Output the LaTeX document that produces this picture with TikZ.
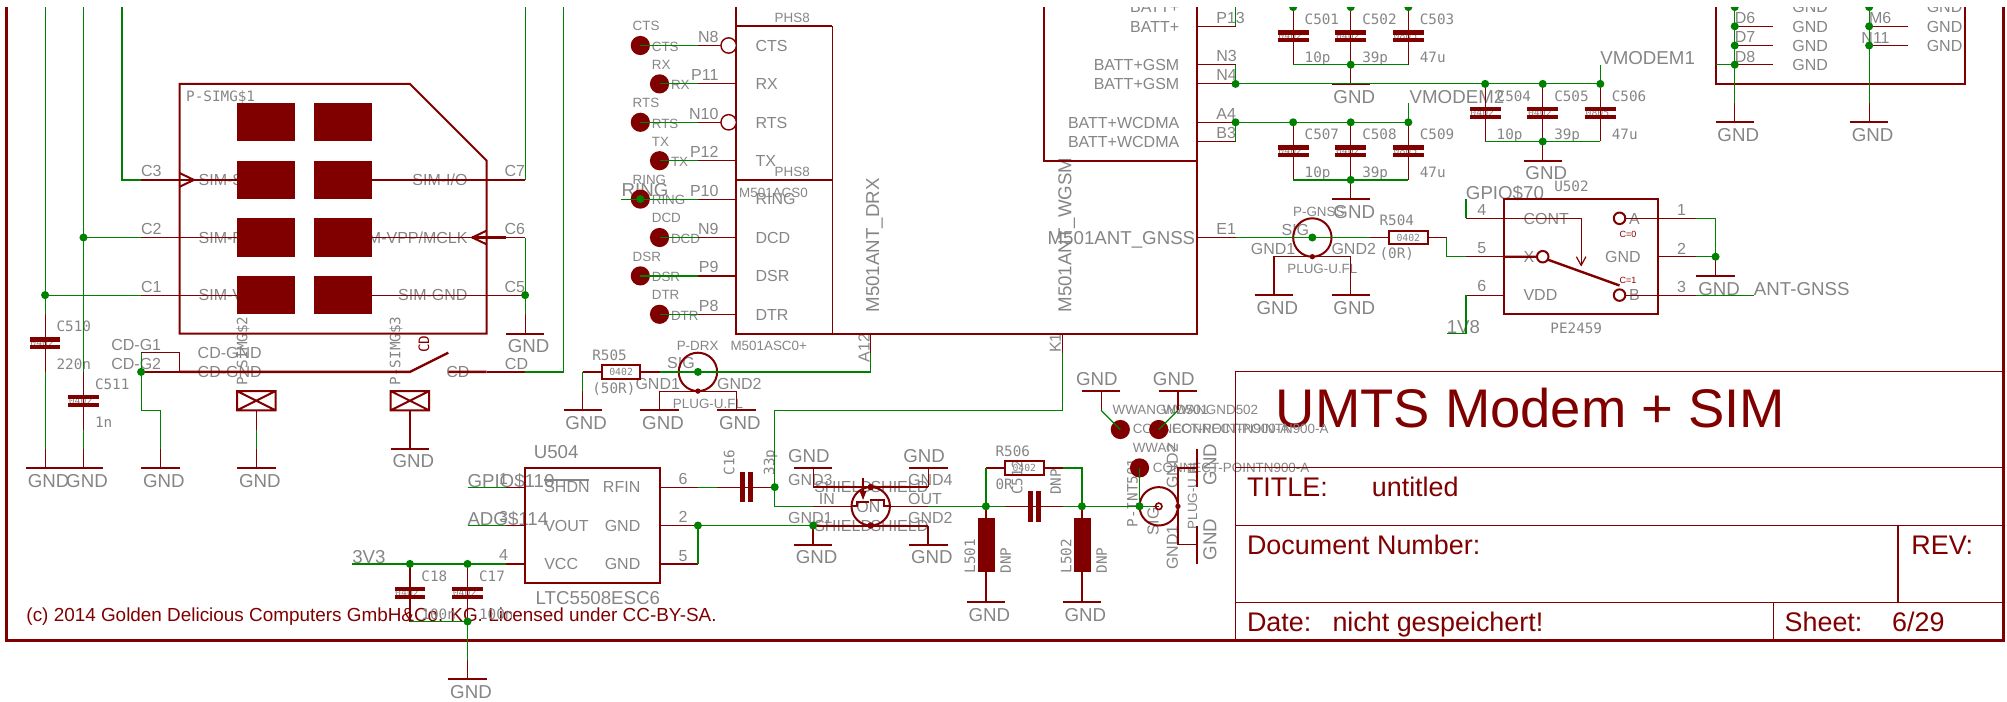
\documentclass[tikz,border=0pt]{standalone}
\usepackage{fontspec}
\newfontfamily\sansf{Liberation Sans}
\newfontfamily\monof{DejaVu Sans Mono}
\definecolor{mar}{HTML}{800000}
\definecolor{grn}{HTML}{008000}
\definecolor{lab}{HTML}{858585}
\newcounter{lb}
\pgfdeclarelayer{txt}\pgfdeclarelayer{wires}\pgfdeclarelayer{dots}\pgfdeclarelayer{cover}
\pgfsetlayers{txt,main,wires,dots,cover}
\tikzset{
  lbase/.style={inner sep=0,outer sep=0,anchor=base west,text=lab},
  fa/.style={lbase,font=\sansf\fontsize{9.35}{10}\selectfont},
  fb/.style={lbase,font=\sansf\fontsize{8}{9}\selectfont},
  fd/.style={lbase,font=\sansf\fontsize{6.7}{8}\selectfont},
  fm/.style={lbase,font=\monof\fontsize{7.15}{8}\selectfont},
  ft/.style={lbase,font=\monof\fontsize{4.9}{6}\selectfont,anchor=center},
  rot/.style={rotate=90},
  re/.style={anchor=base east},
  ttl/.style={lbase,text=mar,font=\sansf\fontsize{27.2}{29}\selectfont},
  tmid/.style={lbase,text=mar,font=\sansf\fontsize{13.45}{15}\selectfont},
  cprt/.style={lbase,text=mar,font=\sansf\fontsize{9.45}{11}\selectfont},
  tiny/.style={lbase,text=mar,font=\sansf\fontsize{4.5}{5}\selectfont},
  pinl/.style={draw=mar,line width=0.6pt},
  symb/.style={draw=mar,line width=1pt},
  thk/.style={draw=mar,line width=1.2pt},
  wire/.style={draw=grn,line width=0.6pt},
  frm/.style={draw=mar,line width=1.3pt},
  tblk/.style={draw=mar,line width=0.55pt},
}
\makeatletter
\newcommand\txtlist{}\newcommand\wirelist{}\newcommand\dotlist{}
\newcommand\TX[1]{\g@addto@macro\txtlist{#1}}
\newcommand\W[1]{\g@addto@macro\wirelist{#1}}
\newcommand\tl[5][]{\TX{\stepcounter{lb}\node[#2,#1] (lb\arabic{lb}) at (#3,#4) {#5};}}
\newcommand\J[3]{\coordinate (#1) at (#2,#3);\g@addto@macro\dotlist{\fill[grn] (#2,#3) circle (0.21);}}
\makeatother
\newcommand\gnd[2]{\path[symb] ({#1-1},#2)--({#1+1},#2);\path[pinl] (#1,{#2-1})--(#1,#2);\tl{fa}{#1-.9}{#2+1}{GND}}
\newcommand\gndup[2]{\path[symb] ({#1-1},#2)--({#1+1},#2);\path[pinl] (#1,{#2+1})--(#1,#2);\tl{fa}{#1-1.3}{#2-.28}{GND}}
\newcommand\capv[5]{\path[pinl] (#1,{#2-1.5})--(#1,{#2+1.5});
  \fill[mar] ({#1-.8},{#2-.3}) rectangle ({#1+.8},{#2-.07});
  \fill[mar] ({#1-.8},{#2+.1}) rectangle ({#1+.8},{#2+.33});
  \tl{ft}{#1-.15}{#2}{#3}\tl{fm}{#1+.6}{#2-.6}{#4}\tl{fm}{#1+.6}{#2+1.37}{#5}}
\newcommand\caph[2]{\path[pinl] ({#1-1.5},#2)--({#1+1.5},#2);
  \fill[mar] ({#1-.3},{#2-.8}) rectangle ({#1-.05},{#2+.8});
  \fill[mar] ({#1+.1},{#2-.8}) rectangle ({#1+.35},{#2+.8});}
\newcommand\resb[2]{\path[symb] (#1,{#2-.36}) rectangle ({#1+2},{#2+.36});
  \path[pinl] ({#1-1},#2)--(#1,#2) ({#1+2},#2)--({#1+3},#2);\tl{ft}{#1+1}{#2+.02}{0402}}
\newcommand\coax[2]{\path[symb] (#1,#2) circle (1);\fill[mar] (#1,{#2+1}) circle (.14);}
\newcommand\mpin[4]{%
  \fill[mar] (#3,#2) circle (.5);
  \path[pinl] (36,#2)--(38,#2);
  \tl[re]{fb}{37.07}{#2-.16}{#1}
  \tl{fb}{39}{#2+.3}{#4}
  \tl{fd}{#3-.4}{#2-.76}{#4}
  \tl{fd}{#3+.6}{#2+.3}{#4}
  \W{\path[wire] (#3,#2)--(36,#2);}}
\begin{document}
\begin{tikzpicture}[x=9.6pt,y=-9.6pt]
\useasboundingbox (-0.349,-0.37) rectangle (104.18,36.19);

% frame and title block
\path[frm] (0,0)--(0,33)--(104,33)--(104,0);
\path[tblk] (64,33)--(64,19)--(104,19) (64,24)--(104,24) (64,27)--(104,27) (64,31)--(104,31) (92,31)--(92,33) (98.5,27)--(98.5,31);
\tl{ttl}{66.1}{21.9}{UMTS Modem + SIM}
\tl{tmid}{64.6}{25.5}{TITLE:}
\tl{tmid}{71.1}{25.5}{untitled}
\tl{tmid}{64.6}{28.5}{Document Number:}
\tl{tmid}{99.2}{28.5}{REV:}
\tl{tmid}{64.6}{32.5}{Date:}
\tl{tmid}{69.05}{32.5}{nicht gespeichert!}
\tl{tmid}{92.6}{32.5}{Sheet:}
\tl{tmid}{98.2}{32.5}{6/29}
\tl{cprt}{1.03}{32}{(c) 2014 Golden Delicious Computers GmbH\&Co. KG. Licensed under CC-BY-SA.}

% junctions
\J{jCa}{2}{15}\J{jCb}{4}{12}\J{jCe}{27}{15}\J{jCDG}{7}{19}
\J{jVa}{21}{29}\J{jVb}{24}{29}\J{jVg}{24}{32}
\J{jUg}{36}{27}\J{jQg}{42}{27}\J{jCs}{40}{25}
\J{jLa}{51}{26}\J{jLb}{56}{26}\J{jW}{59}{26}\J{jDRX}{36}{19}\J{jGN}{68}{12}\J{jRing}{33}{10}
\J{jBa}{64}{4}\J{jBb}{64}{6}\J{jPa}{77}{4}\J{jPb}{80}{4}\J{jPc}{83}{4}
\J{jQa}{67}{6}\J{jQb}{70}{6}\J{jQc}{73}{6}
\J{jRa}{70}{3}\J{jRb}{70}{9}\J{jRc}{80}{7}\J{jSw}{89}{13}
\J{jTa}{67}{0}\J{jTb}{70}{0}\J{jTc}{73}{0}
\J{jXa}{90}{0}\J{jXb}{90}{1}\J{jXc}{90}{2}\J{jXd}{90}{3}
\J{jYa}{97}{0}\J{jYb}{97}{1}\J{jYc}{97}{2}

% SIM card
\path[symb] (9,4)--(21,4)--(25,8)--(25,17)--(9,17)--cycle;
\foreach \yy in {5,8,11,14}{\fill[mar] (12,\yy) rectangle (15,\yy+2);\fill[mar] (16,\yy) rectangle (19,\yy+2);}
\tl{fm}{9.35}{4.93}{P-SIMG\$1}
\path[pinl] (7,9)--(12,9) (7,12)--(12,12) (7,15)--(12,15) (19,9)--(27,9) (19,12)--(27,12) (19,15)--(27,15);
\path[thk] (8,9)--(9.75,9) (24.25,12)--(26,12);
\path[symb] (9,8.64)--(9.75,9)--(9,9.36) (25,11.64)--(24.25,12)--(25,12.36);
\tl{fb}{7}{8.84}{C3}\tl{fb}{7}{11.84}{C2}\tl{fb}{7}{14.84}{C1}
\tl[re]{fb}{27}{8.84}{C7}\tl[re]{fb}{27}{11.84}{C6}\tl[re]{fb}{27}{14.84}{C5}
\tl{fb}{10}{9.3}{SIM-S}\tl{fb}{10}{12.3}{SIM-R}\tl{fb}{10}{15.3}{SIM-V}
\tl[re]{fb}{24}{9.3}{SIM-I/O}\tl[re]{fb}{24}{12.3}{M-VPP/MCLK}\tl[re]{fb}{24}{15.3}{SIM-GND}
\path[pinl] (7,18)--(9,18)--(9,19) (7,19)--(9,19);
\path[thk] (9,19)--(21,19)--(23,18) (23,19)--(25,19);
\path[pinl] (25,19)--(27,19);
\tl{fb}{5.45}{17.86}{CD-G1}\tl{fb}{5.45}{18.86}{CD-G2}
\tl{fb}{9.95}{18.3}{CD-GND}\tl{fb}{9.95}{19.3}{CD-GND}
\tl{fb}{22.9}{19.3}{CD}\tl{fb}{25.95}{18.86}{CD}
\tl[rot,text=mar]{fm}{22}{18}{CD}
\tl[rot]{fm}{12.54}{19.7}{P-SIMG\$2}\tl[rot]{fm}{20.5}{19.7}{P-SIMG\$3}
\path[symb] (12,20) rectangle (14,21) (12,20)--(14,21) (12,21)--(14,20);
\path[symb] (20,20) rectangle (22,21) (20,20)--(22,21) (20,21)--(22,20);
\path[pinl] (13,21)--(13,22) (21,21)--(21,22);
\gnd{21}{23}\gnd{13}{24}\gnd{8}{24}\gnd{2}{24}\gnd{4}{24}\gnd{27}{17}
\capv{2}{17.5}{0402}{C510}{220n}
\capv{4}{20.5}{0402}{C511}{1n}
\W{\path[wire] (2,0)--(jCa)--(2,16) (jCa)--(7,15);
\path[wire] (4,0)--(4,19) (jCb)--(7,12);
\path[wire] (6,0)--(6,9)--(7,9) (27,0)--(27,9) (27,12)--(jCe)--(27,16);
\path[wire] (29,0)--(29,19)--(27,19);
\path[wire] (7,18)--(jCDG)--(7,21)--(8,21)--(8,23);
\path[wire] (2,19)--(2,23) (4,22)--(4,23) (13,22)--(13,23);}

% LTC5508
\path[symb] (27,24) rectangle (34,30);
\path[pinl] (26,25)--(27,25) (26,27)--(27,27) (26,29)--(27,29) (34,25)--(36,25) (34,27)--(36,27) (34,29)--(36,29);
\tl{fa}{27.45}{23.5}{U504}\tl{fa}{27.55}{31.1}{LTC5508ESC6}
\tl{fa}{24}{25}{GPIO\$110}\tl{fa}{24}{27}{ADG\$114}\tl{fa}{18}{29}{3V3}
\tl{fb}{25.64}{24.84}{1}\tl{fb}{25.64}{26.84}{3}\tl{fb}{25.64}{28.84}{4}
\tl{fb}{28}{25.3}{SHDN}\tl{fb}{28}{27.3}{VOUT}\tl{fb}{28}{29.3}{VCC}
\tl[re]{fb}{33}{25.3}{RFIN}\tl[re]{fb}{33}{27.3}{GND}\tl[re]{fb}{33}{29.3}{GND}
\tl{fb}{35}{24.85}{6}\tl{fb}{35}{26.85}{2}\tl{fb}{35}{28.85}{5}
\TX{\draw[lab,line width=.6pt] (28,24.63)--(30.35,24.63);}
\capv{21}{30.5}{0402}{C18}{100n}
\capv{24}{30.5}{0402}{C17}{100n}
\gnd{24}{35}
\W{\path[wire] (24,25)--(26,25) (24,27)--(26,27) (18,29)--(26,29) (21,32)--(jVg)--(24,34);
\path[wire] (36,25)--(37,25) (36,29)--(jUg)--(jQg);}
\caph{38.5}{25}
\tl[rot]{fm}{37.9}{24.4}{C16}\tl[rot]{fm}{39.98}{24.4}{33p}

% shield switch
\path[symb] (45,26) circle (1);
\path[pinl] (42,26)--(44,26) (46,26)--(48,26) (42,24)--(42,25) (48,24)--(48,25);
\path[symb] (42,25)--(48,25) (42,27)--(48,27) (42,27)--(42,28) (48,27)--(48,28);
\path[symb] (44,26)--(44.3,26)--(44.3,25.76)--(44.9,25.76) (44.95,25.65)--(45.7,25.65)--(45.7,26)--(46,26) (44.6,24.5)--(44.6,25.3);
\fill[mar] (44.42,25.2)--(44.78,25.2)--(44.6,25.67)--cycle;
\fill[mar] (45,25) circle (.17) (45,27) circle (.17);
\gndup{42}{24}\gndup{48}{24}\gnd{42}{28}\gnd{48}{28}
\tl{fb}{40.7}{24.9}{GND3}\tl{fb}{46.95}{24.9}{GND4}\tl{fb}{40.7}{26.9}{GND1}\tl{fb}{46.95}{26.9}{GND2}
\tl{fb}{42.3}{25.9}{IN}\tl{fb}{46.95}{25.9}{OUT}
\tl{fb}{42.06}{25.3}{SHIELD}\tl[re]{fb}{48}{25.3}{SHIELD}
\tl{fb}{42.06}{27.3}{SHIELD}\tl[re]{fb}{48}{27.3}{SHIELD}
\tl{fb}{44.25}{26.3}{ON}
\W{\path[wire] (jCs)--(40,26)--(42,26) (jCs)--(40,21)--(55,21)--(55,18);
\path[wire] (48,26)--(jLa) (51,24)--(jLa)--(52,26) (55,26)--(jLb) (55,24)--(56,24)--(jLb);
\path[wire] (jLb)--(jW)--(59.7,26) (jW)--(59,24);}
\resb{52}{24}
\tl{fm}{51.5}{23.4}{R506}\tl{fm}{51.5}{25.1}{0R}
\tl[rot]{fm}{52.9}{25.4}{C512}\tl[rot]{fm}{54.9}{25.4}{DNP}
\caph{53.5}{26}
% inductors
\path[pinl] (51,26)--(51,30) (56,26)--(56,30);
\fill[mar] (50.6,26.6) rectangle (51.45,29.4);
\fill[mar] (55.6,26.6) rectangle (56.45,29.4);
\gnd{51}{31}\gnd{56}{31}
\tl[rot]{fm}{50.44}{29.5}{L501}\tl[rot]{fm}{52.3}{29.5}{DNP}
\tl[rot]{fm}{55.45}{29.5}{L502}\tl[rot]{fm}{57.3}{29.5}{DNP}

% WWAN coax and connect points
\path[symb] (60,26) circle (1);
\path[symb,line width=.8pt] (60,26) circle (.17);
\fill[mar] (61,26) circle (.14);
\path[pinl] (59.7,26)--(60,26) (62,24)--(61,24)--(61,28)--(62,28);
\path[symb] (62,23)--(62,25) (62,27)--(62,29);
\fill[mar] (59,24) circle (.5) (58,22) circle (.5) (60,22) circle (.5);
\tl[rot]{fa}{63}{24.9}{GND}\tl[rot]{fa}{63}{28.8}{GND}
\tl[rot]{fb}{61}{25.07}{GND2}\tl[rot]{fb}{61}{29.3}{GND1}
\tl[rot]{fb}{60}{27.5}{SIG}\tl[rot]{fd}{62}{27.2}{PLUG-U.FL}
\tl[rot]{fm}{58.9}{27.1}{P-INT501}
\tl{fd}{58.65}{23.2}{WWAN}\tl{fd}{59.7}{24.25}{CONNECT-POINTN900-A}
\tl{fd}{57.6}{21.2}{WWANGND501}\tl{fd}{60.2}{21.2}{WWANGND502}
\tl{fd}{58.65}{22.2}{CONNECT-POINTN900-A}\tl{fd}{60.7}{22.2}{CONNECT-POINTN900-A}
\gndup{57}{20}\gndup{61}{20}
\W{\path[wire] (58,22)--(57,21) (60,22)--(61,21);}

% DRX coax
\coax{36}{19}
\resb{31}{19}
\path[pinl] (34,21)--(34,20)--(38,20)--(38,21);
\gnd{30}{21}\gnd{34}{21}\gnd{38}{21}
\tl{fm}{30.5}{18.4}{R505}\tl{fm}{30.5}{20.1}{(50R)}
\tl{fb}{32.75}{19.9}{GND1}\tl{fb}{37}{19.9}{GND2}\tl{fb}{34.4}{18.8}{SIG}
\tl{fd}{34.9}{17.9}{P-DRX}\tl{fd}{34.7}{20.9}{PLUG-U.FL}\tl{fd}{37.7}{17.9}{M501ASC0+}
\W{\path[wire] (30,19)--(30,20) (34,19)--(jDRX)--(45,19)--(45,18);}

% M501 module
\path[symb] (38,0)--(38,17)--(62,17)--(62,0) (54,0)--(54,8)--(62,8) (38,1)--(43,1) (38,9)--(43,9);
\path[symb,line width=.8pt] (43,1)--(43,17);
\path[pinl] (45,17)--(45,18) (55,17)--(55,18);
\tl[rot]{fb}{44.94}{18.5}{A12}\tl[rot]{fb}{54.9}{18}{K1}
\tl[rot]{fa}{45.44}{15.9}{M501ANT\_DRX}\tl[rot]{fa}{55.45}{15.9}{M501ANT\_WGSM}
\tl[re]{fa}{61.9}{12.36}{M501ANT\_GNSS}
\tl{fd}{40}{.8}{PHS8}\tl{fd}{40}{8.8}{PHS8}\tl{fd}{38.15}{9.9}{M501ACS0}
\mpin{N8}{2}{33}{CTS}\mpin{P11}{4}{34}{RX}\mpin{N10}{6}{33}{RTS}\mpin{P12}{8}{34}{TX}
\mpin{P10}{10}{33}{RING}\mpin{N9}{12}{34}{DCD}\mpin{P9}{14}{33}{DSR}\mpin{P8}{16}{34}{DTR}
\fill[white] (37.6,2) circle (.4) (37.6,6) circle (.4);
\path[symb,line width=.7pt] (37.6,2) circle (.4) (37.6,6) circle (.4);
\tl{fa}{32.03}{9.87}{RING}
\W{\path[wire] (32,10)--(jRing);}
\tl[re]{fb}{61.07}{.3}{BATT+}\tl[re]{fb}{61.07}{1.3}{BATT+}
\tl[re]{fb}{61.07}{3.3}{BATT+GSM}\tl[re]{fb}{61.07}{4.3}{BATT+GSM}
\tl[re]{fb}{61.07}{6.3}{BATT+WCDMA}\tl[re]{fb}{61.07}{7.3}{BATT+WCDMA}
\path[pinl] (62,1)--(64,1) (62,3)--(64,3) (62,4)--(64,4) (62,6)--(64,6) (62,7)--(64,7) (62,12)--(64,12);
\tl{fb}{63}{.84}{P13}\tl{fb}{63}{2.84}{N3}\tl{fb}{63}{3.84}{N4}\tl{fb}{63}{5.84}{A4}\tl{fb}{63}{6.84}{B3}\tl{fb}{63}{11.84}{E1}

% VMODEM capacitors
\capv{67}{1.5}{0402}{C501}{10p}\capv{70}{1.5}{0402}{C502}{39p}\capv{73}{1.5}{0805}{C503}{47u}
\capv{67}{7.5}{0402}{C507}{10p}\capv{70}{7.5}{0402}{C508}{39p}\capv{73}{7.5}{0805}{C509}{47u}
\capv{77}{5.5}{0402}{C504}{10p}\capv{80}{5.5}{0402}{C505}{39p}\capv{83}{5.5}{0805}{C506}{47u}
\gnd{70}{4}\gnd{70}{10}\gnd{80}{8}
\tl{fa}{83}{3}{VMODEM1}\tl{fa}{73.07}{5}{VMODEM2}
\W{\path[wire] (64,0)--(64,1) (64,3)--(jBa)--(jPc)--(83,3);
\path[wire] (jBb)--(64,7) (jBb)--(jQc)--(73,5);
\path[wire] (67,3)--(73,3) (67,9)--(73,9) (77,7)--(83,7);}

% GNSS coax
\coax{68}{12}
\path[pinl] (66,14)--(66,13)--(70,13)--(70,14);
\gnd{66}{15}\gnd{70}{15}
\resb{72}{12}
\tl{fb}{66.4}{11.87}{SIG}\tl{fb}{64.8}{12.86}{GND1}\tl{fb}{69}{12.86}{GND2}
\tl{fd}{67}{10.9}{P-GNSS}\tl{fd}{66.7}{13.9}{PLUG-U.FL}
\tl{fm}{71.5}{11.4}{R504}\tl{fm}{71.5}{13.1}{(0R)}

% PE2459
\path[symb] (78,10) rectangle (86,16);
\path[pinl] (76,11)--(82,11)--(82,13.4) (76,13)--(78,13) (76,15)--(78,15) (84.3,11)--(88,11) (86,13)--(88,13) (84.3,15)--(88,15);
\path[pinl] (81.75,13)--(82,13.45)--(82.25,13);
\path[thk] (78,13)--(79.7,13) (80.25,13.15)--(84,14.5);
\path[symb] (80,13) circle (.3) (84,11) circle (.3) (84,15) circle (.3);
\tl{fa}{76}{10}{GPIO\$70}\tl{fa}{75}{17}{1V8}\tl{fa}{91}{15}{ANT-GNSS}
\tl{fb}{76.6}{10.83}{4}\tl{fb}{76.6}{12.83}{5}\tl{fb}{76.6}{14.83}{6}
\tl{fb}{87}{10.83}{1}\tl{fb}{87}{12.86}{2}\tl{fb}{87}{14.87}{3}
\tl{fb}{79}{11.3}{CONT}\tl{fb}{79}{13.3}{X}\tl{fb}{79}{15.3}{VDD}
\tl{fb}{84.5}{11.3}{A}\tl{fb}{84.5}{15.3}{B}\tl[re]{fb}{85.1}{13.3}{GND}
\tl{tiny}{84}{12}{C=0}\tl{tiny}{84}{14.4}{C=1}
\tl{fm}{80.6}{9.6}{U502}\tl{fm}{80.4}{17}{PE2459}
\path[symb] (88,14)--(90,14);
\tl{fa}{88.1}{15}{GND}
\W{\path[wire] (64,12)--(jGN)--(71,12) (75,12)--(75,13)--(76,13) (76,10)--(76,11);
\path[wire] (76,15)--(76,17)--(75,17) (88,11)--(89,11)--(jSw) (88,13)--(jSw) (88,15)--(91,15);}
\path[pinl] (jSw)--(89,14);

% top-right connector
\path[symb] (89,0)--(89,4)--(102,4)--(102,0);
\path[pinl] (90,1)--(92,1) (90,2)--(92,2) (90,3)--(92,3) (97,1)--(99,1) (97,2)--(99,2);
\tl{fb}{90}{.87}{D6}\tl{fb}{90}{1.87}{D7}\tl{fb}{90}{2.87}{D8}
\tl{fb}{97}{.87}{M6}\tl{fb}{96.6}{1.9}{N11}
\tl{fb}{93}{.3}{GND}\tl{fb}{93}{1.3}{GND}\tl{fb}{93}{2.3}{GND}\tl{fb}{93}{3.3}{GND}
\tl{fb}{100}{.3}{GND}\tl{fb}{100}{1.3}{GND}\tl{fb}{100}{2.3}{GND}
\gnd{90}{6}\gnd{97}{6}
\W{\path[wire] (jXa)--(jXb)--(jXc)--(jXd)--(90,5) (89,3)--(jXd);
\path[wire] (jYa)--(jYb)--(jYc)--(97,5);}

% deferred layers
\begin{pgfonlayer}{txt}\txtlist\end{pgfonlayer}
\begin{pgfonlayer}{wires}\wirelist\end{pgfonlayer}
\begin{pgfonlayer}{dots}\dotlist\end{pgfonlayer}
\begin{pgfonlayer}{cover}\fill[white] (-0.349,-0.37) rectangle (104.18,0);\end{pgfonlayer}
\end{tikzpicture}
\end{document}
